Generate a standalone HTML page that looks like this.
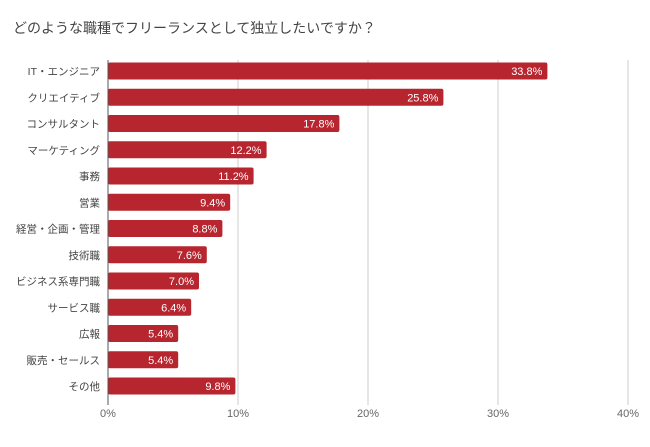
<!DOCTYPE html>
<html><head><meta charset="utf-8"><style>
body{margin:0;background:#fff;font-family:"Liberation Sans","Noto Sans CJK JP",sans-serif}
</style></head><body>
<svg width="650" height="442" xmlns="http://www.w3.org/2000/svg">
<text x="13" y="33" font-size="14" fill="#444" font-family="Liberation Sans, Noto Sans CJK JP, sans-serif">どのような職種でフリーランスとして独立したいですか？</text>
<g id="grid"></g><g id="bars"></g><g id="labels"></g>
</svg>
<script>
const categories=["IT・エンジニア","クリエイティブ","コンサルタント","マーケティング","事務","営業","経営・企画・管理","技術職","ビジネス系専門職","サービス職","広報","販売・セールス","その他"];
const values=[33.8,25.8,17.8,12.2,11.2,9.4,8.8,7.6,7.0,6.4,5.4,5.4,9.8];
const ticks=[0,10,20,30,40];
const NS="http://www.w3.org/2000/svg";
const x0=108,pxPer=13,top0=71,step=26.25,bh=17;
const xs=v=>x0+v*pxPer, ys=i=>top0+i*step;
function mk(t,a,p){const e=document.createElementNS(NS,t);for(const k in a)e.setAttribute(k,a[k]);p.appendChild(e);return e;}
const grid=document.getElementById('grid'),bars=document.getElementById('bars'),labels=document.getElementById('labels');
ticks.forEach(t=>{
 if(t>0){const l=mk('line',{x1:xs(t),x2:xs(t),y1:60,y2:405,stroke:'#ccc','stroke-width':1},grid);
 
 }
 const tx=mk('text',{x:xs(t),y:417,'text-anchor':'middle','font-size':11,fill:'#666'},grid);
 tx.textContent=t+'%';
 
 
});
categories.forEach((c,i)=>{
 const y=ys(i);
 const r=mk('rect',{x:x0,y:y-bh/2,width:xs(values[i])-x0,height:bh,rx:2,fill:'#b7252f'},bars);
 
 
 const v=mk('text',{x:xs(values[i])-5,y:y+4,'text-anchor':'end','font-size':11,fill:'#fff'},labels);
 v.textContent=values[i].toFixed(1)+'%';
 
 
 const t=mk('text',{x:x0-8,y:y+4,'text-anchor':'end','font-size':10.5,fill:'#444'},labels);
 t.textContent=c;
 
 
});
const ax=mk('line',{x1:x0,x2:x0,y1:60,y2:405,stroke:'#555','stroke-width':1},labels);


</script>
</body></html>
